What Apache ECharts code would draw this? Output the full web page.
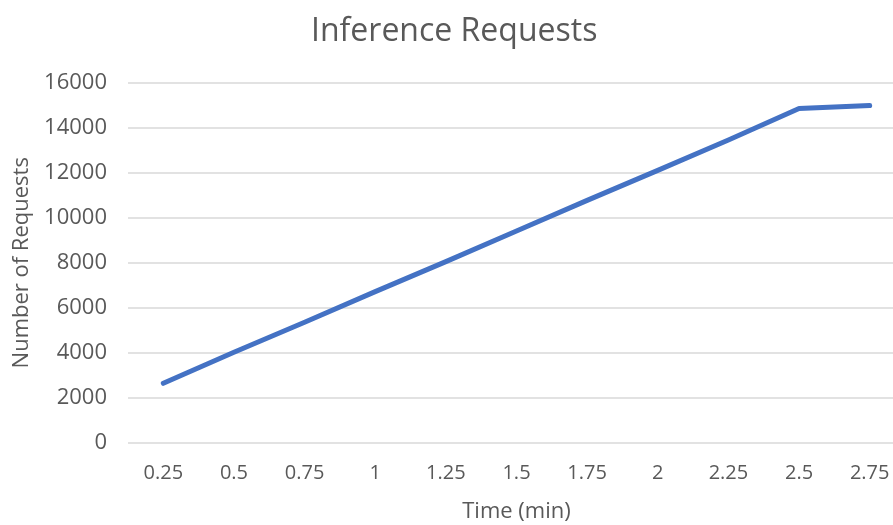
<!DOCTYPE html>
<html>
<head>
<meta charset="utf-8">
<script src="https://cdn.jsdelivr.net/npm/echarts@6/dist/echarts.min.js"></script>
<style>
  html, body { margin: 0; padding: 0; background: #ffffff; }
  #chart { width: 893px; height: 525px; }
</style>
</head>
<body>
<div id="chart"></div>
<script>
// Elapsed time in minutes (category axis)
const timeMinutes = ['0.25', '0.5', '0.75', '1', '1.25', '1.5', '1.75', '2', '2.25', '2.5', '2.75'];
// Cumulative inference requests served at each time step
const requestCounts = [2650, 4030, 5360, 6720, 8050, 9410, 10770, 12100, 13450, 14850, 14980];
// Value-axis ticks
const yTicks = [0, 2000, 4000, 6000, 8000, 10000, 12000, 14000, 16000];

const textColor = '#595959';
const fontFamily = '"Open Sans", "Liberation Sans", sans-serif';

const chart = echarts.init(document.getElementById('chart'), null, { renderer: 'canvas' });

chart.setOption({
  animation: false,
  backgroundColor: '#ffffff',
  title: {
    text: 'Inference Requests',
    left: 306,
    top: 11,
    textStyle: { color: textColor, fontFamily, fontSize: 32, fontWeight: 'normal' }
  },
  // the plot area runs slightly past the right edge of the canvas
  grid: { left: 128, right: -12, top: 82.5, bottom: 82, outerBoundsMode: 'none', containLabel: false },
  xAxis: {
    type: 'category',
    data: timeMinutes,
    boundaryGap: true,
    name: 'Time (min)',
    nameLocation: 'middle',
    nameGap: 58,
    nameTextStyle: { color: textColor, fontFamily, fontSize: 22 },
    axisLine: { show: false },
    axisTick: { show: false },
    axisLabel: { color: textColor, fontFamily, fontSize: 20, margin: 20 }
  },
  yAxis: {
    type: 'value',
    min: yTicks[0],
    max: yTicks[yTicks.length - 1],
    interval: yTicks[1] - yTicks[0],
    name: 'Number of Requests',
    nameLocation: 'middle',
    nameGap: 92,
    nameTextStyle: { color: textColor, fontFamily, fontSize: 22 },
    axisLine: { show: false },
    axisTick: { show: false },
    axisLabel: { color: textColor, fontFamily, fontSize: 22, margin: 21, formatter: v => String(v) },
    splitLine: { lineStyle: { color: '#d9d9d9', width: 1.5 } }
  },
  series: [{
    type: 'line',
    data: requestCounts,
    symbol: 'none',
    lineStyle: { color: '#4472c4', width: 5, cap: 'round', join: 'round' }
  }]
});
</script>
</body>
</html>
